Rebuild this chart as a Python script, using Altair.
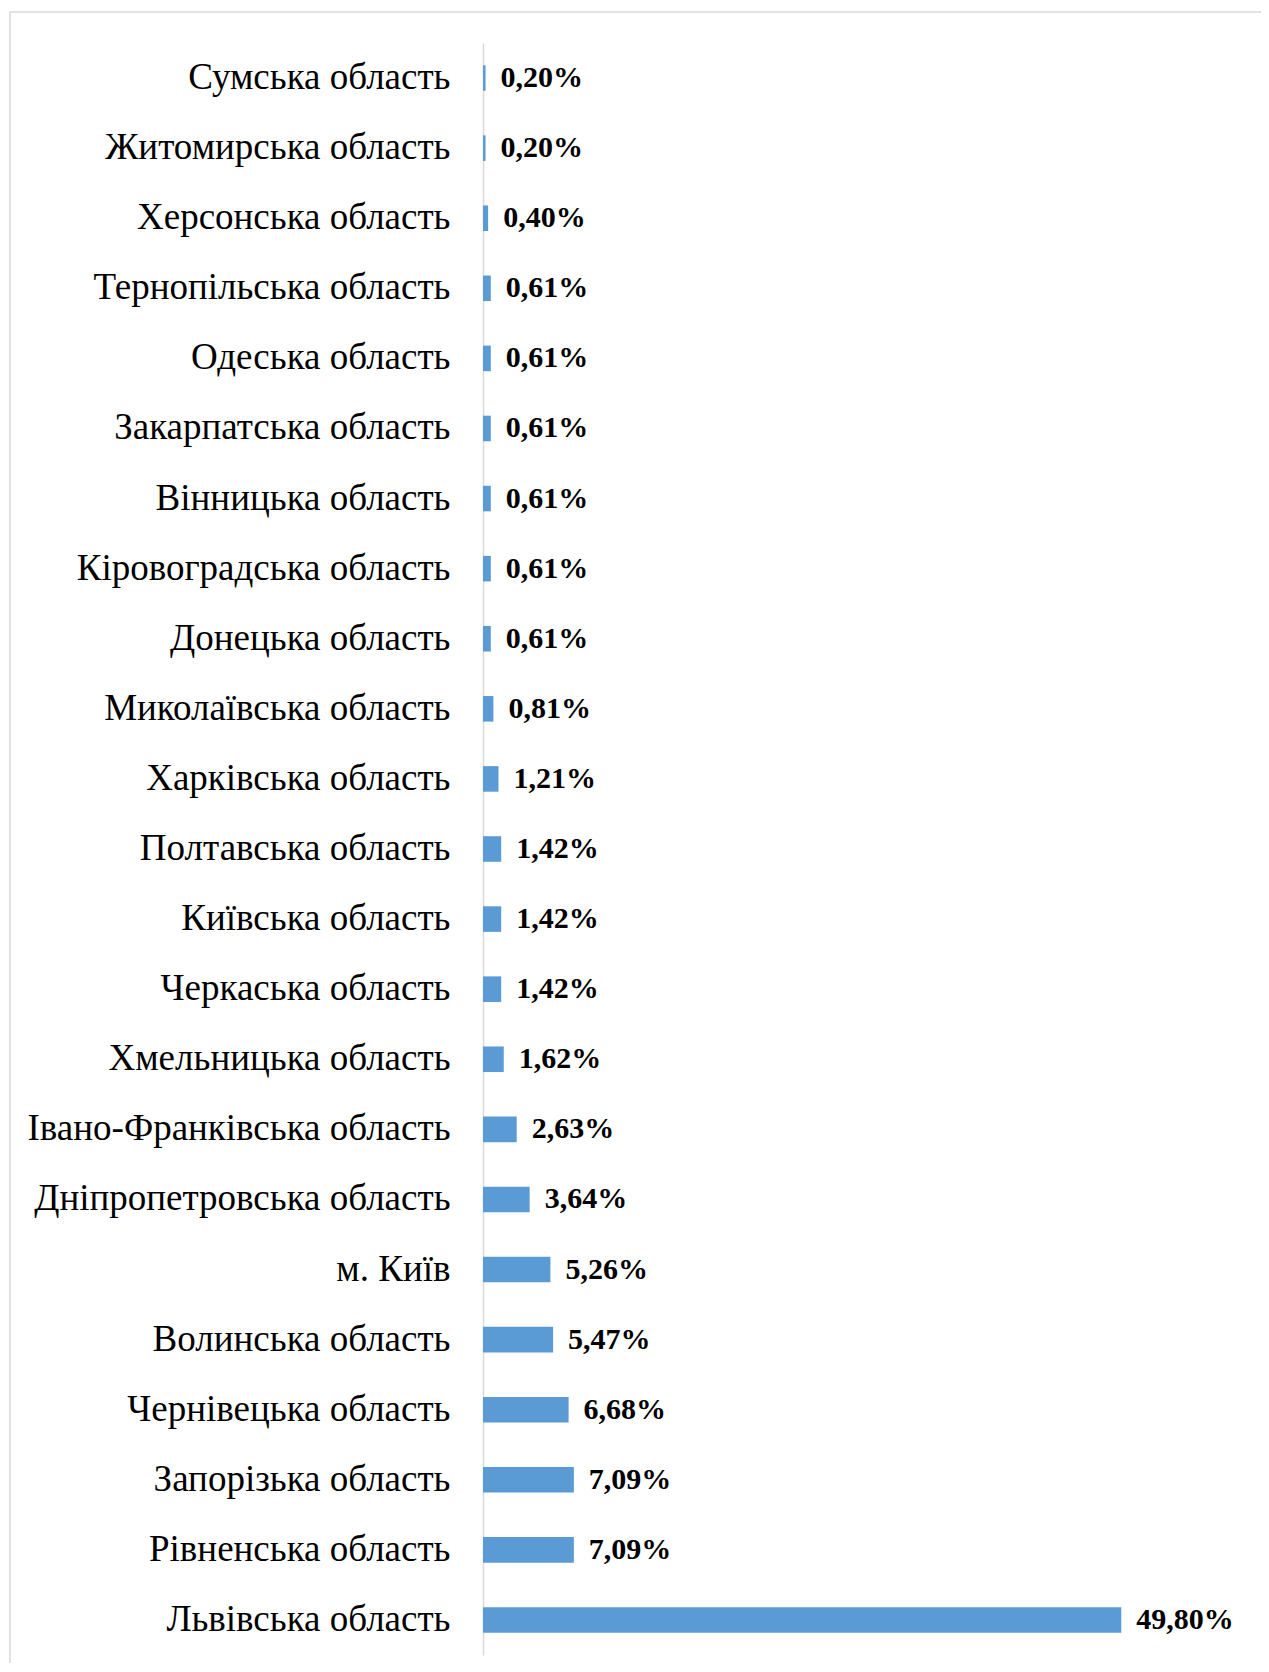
import altair as alt
import pandas as pd

regions = [
    "Сумська область", "Житомирська область", "Херсонська область",
    "Тернопільська область", "Одеська область", "Закарпатська область",
    "Вінницька область", "Кіровоградська область", "Донецька область",
    "Миколаївська область", "Харківська область", "Полтавська область",
    "Київська область", "Черкаська область", "Хмельницька область",
    "Івано-Франківська область", "Дніпропетровська область", "м. Київ",
    "Волинська область", "Чернівецька область", "Запорізька область",
    "Рівненська область", "Львівська область",
]
values = [0.20, 0.20, 0.40, 0.61, 0.61, 0.61, 0.61, 0.61, 0.61, 0.81,
          1.21, 1.42, 1.42, 1.42, 1.62, 2.63, 3.64, 5.26, 5.47, 6.68,
          7.09, 7.09, 49.80]

df = pd.DataFrame({"region": regions, "value": values})
df["label"] = [f"{v:.2f}%".replace(".", ",") for v in values]

FONT = "Liberation Serif"

y_enc = alt.Y(
    "region:N", sort=regions, title=None,
    scale=alt.Scale(paddingInner=0.635, paddingOuter=0.3175),
    axis=alt.Axis(
        ticks=False, grid=False, domain=True, domainColor="#d9d9d9",
        domainWidth=1.5, labelFont=FONT, labelFontSize=37,
        labelColor="#000000", labelPadding=33, labelLimit=600,
    ),
)
x_enc = alt.X("value:Q", scale=alt.Scale(domain=[0, 60]), axis=None)

bars = alt.Chart(df).mark_bar(color="#5B9BD5").encode(x=x_enc, y=y_enc)
text = alt.Chart(df).mark_text(
    align="left", baseline="middle", dx=15, font=FONT, fontSize=30,
    fontWeight="bold", color="#000000",
).encode(x=x_enc, y=y_enc, text="label:N")

frame = alt.Chart(alt.Data(values=[{"a": 1}])).mark_rect(
    fill=None, stroke="#d9d9d9", strokeWidth=1.5, clip=False
).encode(
    x=alt.value(-473), x2=alt.value(800), y=alt.value(-31), y2=alt.value(1700)
)

chart = alt.layer(frame, bars, text).properties(
    width=769, height=1612,
    padding={"left": 475, "top": 35, "right": 9, "bottom": 8},
    autosize=alt.AutoSizeParams(type="none"),
).configure(background="#ffffff").configure_view(stroke=None)

chart.save("out.html", embed_options={"renderer": "svg", "actions": False})
